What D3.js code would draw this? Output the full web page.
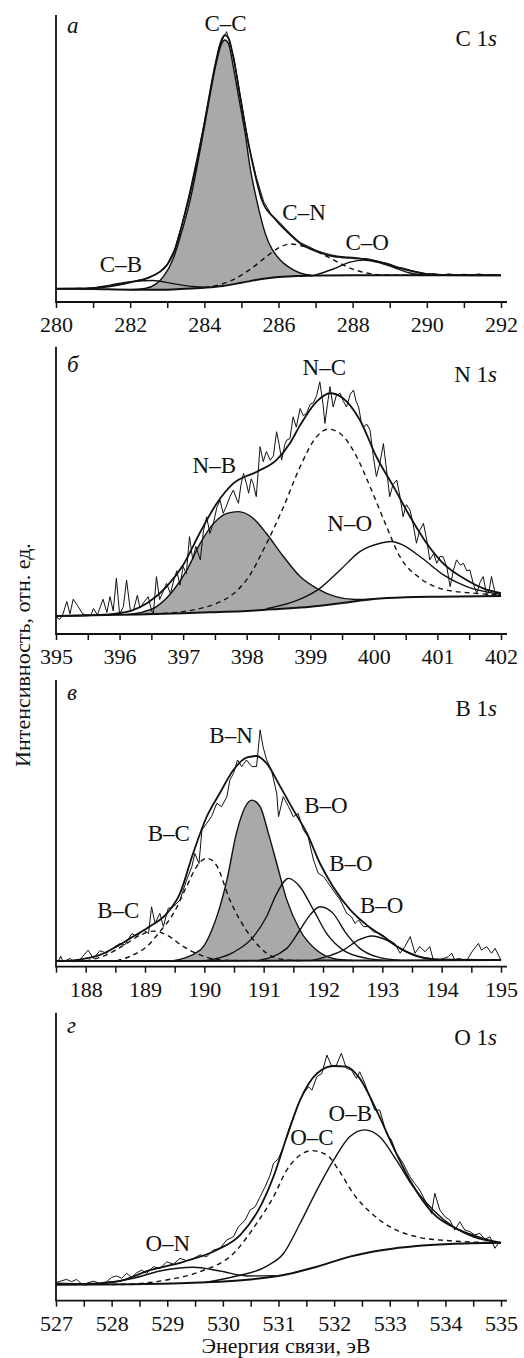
<!DOCTYPE html>
<html lang="ru">
<head>
<meta charset="UTF-8" />
<title>XPS</title>
<script src="https://d3js.org/d3.v7.min.js"></script>
<style>
  body { margin: 0; background: #fff; }
  svg { font-family: "Liberation Serif", "Times New Roman", serif; }
  .tick text { font-size: 22px; fill: #111; font-family: "Liberation Serif", "Times New Roman", serif; }
  .tick line { stroke: #111; stroke-width: 1.5px; }
</style>
</head>
<body>
<svg id="chart" width="524" height="1358"></svg>
<script>
// ---------- C 1s ----------
const c1sBackground = [[280,4.6],[281,4.5],[282,4.3],[283,4.3],[283.5,4.6],[284,5.0],[284.5,5.6],[285,6.7],[285.5,7.9],[286,8.7],[286.5,9.1],[287,9.2],[288,9.3],[292,9.3]];
const c1sCC = [[282.0,4.3],[282.4,4.7],[282.7,6.3],[282.9,8.9],[283.15,14.7],[283.38,24.0],[283.62,35.6],[283.97,58.8],[284.13,70.4],[284.3,82.0],[284.47,90.1],[284.55,91.3],[284.65,90.1],[284.78,82.0],[284.94,70.4],[285.1,58.8],[285.23,47.2],[285.41,35.6],[285.64,24.0],[286.04,14.7],[286.3,12.0],[286.58,10.1],[286.94,9.2]];
const c1sCB = [[280.7,4.55],[281.0,4.9],[281.46,5.9],[282.09,7.2],[282.6,7.5],[283.16,6.4],[283.7,5.4],[284.1,5.1]];
const c1sCN = [[284.0,5.0],[284.4,6.0],[284.78,7.8],[285.23,11.3],[285.68,15.9],[286.04,19.1],[286.31,20.2],[286.58,19.7],[287.03,17.6],[287.48,14.7],[287.93,11.8],[288.38,10.1],[288.92,9.4],[289.73,9.3]];
const c1sCO = [[286.94,9.2],[287.48,11.5],[287.93,13.9],[288.29,14.6],[288.65,13.9],[289.1,12.1],[289.55,10.1],[290.0,9.3]];
const c1sFit = [[280,4.6],[281,4.8],[281.5,5.5],[282,6.8],[282.5,8.5],[282.8,10.5],[283.0,13],[283.2,18],[283.38,26],[283.6,37],[283.97,60],[284.13,71.5],[284.3,83],[284.47,91.5],[284.55,93.0],[284.65,92],[284.8,84],[284.96,72],[285.12,60],[285.32,47.2],[285.55,35.6],[285.9,29],[286.27,24.0],[286.58,20.5],[287.03,17.6],[287.48,15.9],[288.24,15.0],[288.83,13.6],[289.28,11.8],[289.82,10.1],[290.45,9.4],[292,9.3]];
const c1sRaw = [[280.0,4.6],[280.2,4.7],[280.4,4.6],[280.6,4.8],[280.8,4.7],[281.0,5.0],[281.2,5.1],[281.4,5.5],[281.6,5.7],[281.8,6.3],[282.0,6.8],[282.2,7.5],[282.4,8.1],[282.6,9.1],[282.8,10.6],[283.0,13.2],[283.2,18.4],[283.4,27.2],[283.6,38.0],[283.8,50.0],[284.0,62.5],[284.2,76.5],[284.4,89.0],[284.6,94.2],[284.8,85.0],[285.0,69.5],[285.2,54.5],[285.4,43.5],[285.6,35.0],[285.8,30.6],[286.0,28.2],[286.2,25.4],[286.4,22.8],[286.6,20.6],[286.8,19.4],[287.0,18.1],[287.2,17.2],[287.4,16.5],[287.6,16.0],[287.8,15.7],[288.0,15.6],[288.2,15.2],[288.4,15.1],[288.6,14.5],[288.8,13.8],[289.0,13.2],[289.2,12.2],[289.4,11.7],[289.6,10.9],[289.8,10.4],[290.0,9.8],[290.2,9.9],[290.4,9.4],[290.6,9.8],[290.8,9.3],[291.0,9.7],[291.2,9.3],[291.4,9.8],[291.6,9.3],[291.8,9.6],[292.0,9.3]];

// ---------- N 1s ----------
const n1sBackground = [[395,6.3],[396,6.7],[397,7.2],[397.5,7.6],[398,8.0],[398.5,8.7],[399,9.5],[399.5,10.8],[400,12.2],[400.5,12.8],[401,13.0],[402,13.2]];
const n1sNB = [[396.1,6.75],[396.32,7.4],[396.58,9.5],[396.85,15.3],[397.06,22.3],[397.27,31.6],[397.48,38.5],[397.69,42.0],[397.87,42.6],[398.1,40.3],[398.31,35.0],[398.58,26.9],[398.84,20.0],[399.1,15.9],[399.4,13.0],[399.7,12.0],[400.0,12.2]];
const n1sNC = [[396.4,6.9],[397.0,7.8],[397.27,8.9],[397.53,10.7],[397.79,14.0],[398.05,20.5],[398.26,29.2],[398.58,44.3],[398.84,58.2],[399.1,68.7],[399.28,71.3],[399.47,69.8],[399.73,61.7],[399.94,51.3],[400.2,37.4],[400.41,26.9],[400.73,19.4],[401.1,15.5],[401.57,14.2],[402,13.6]];
const n1sNO = [[398.31,8.8],[398.84,12.1],[399.15,15.9],[399.47,22.3],[399.78,28.7],[400.1,31.6],[400.27,32.2],[400.45,31.0],[400.73,26.9],[401.1,20.5],[401.46,16.5],[402,13.8]];
const n1sFit = [[395,6.3],[395.5,6.5],[395.9,7.0],[396.22,8.4],[396.45,11.0],[396.74,16.5],[397.0,24],[397.27,35.5],[397.53,45.5],[397.79,52.4],[398.16,56.5],[398.47,60.6],[398.68,66.4],[398.84,72.7],[399.1,80.9],[399.31,83.8],[399.52,82.0],[399.78,74.5],[400.04,61.7],[400.31,51.3],[400.57,40.8],[400.83,31.6],[401.09,24.6],[401.46,18.8],[401.72,15.9],[402,14.2]];
const n1sRaw = [[395.00,6.3],[395.05,5.0],[395.10,6.3],[395.17,11.3],[395.22,7.0],[395.27,12.1],[395.35,9.5],[395.42,7.0],[395.50,6.5],[395.55,6.6],[395.59,8.9],[395.65,6.6],[395.74,12.1],[395.80,7.5],[395.85,13.0],[395.90,8.0],[395.95,19.4],[396.00,7.0],[396.06,9.5],[396.11,18.8],[396.17,8.0],[396.22,8.4],[396.28,13.5],[396.32,9.0],[396.38,11.0],[396.45,13.0],[396.50,8.5],[396.53,6.6],[396.58,20.0],[396.63,12.0],[396.69,15.0],[396.74,17.6],[396.80,14.0],[396.85,18.5],[396.90,22.0],[396.95,17.0],[397.00,23.5],[397.05,21.0],[397.10,33.9],[397.15,26.0],[397.20,30.5],[397.27,25.8],[397.32,36.0],[397.37,40.8],[397.42,35.0],[397.48,39.0],[397.53,44.0],[397.58,46.6],[397.63,42.0],[397.68,44.5],[397.74,48.0],[397.79,50.1],[397.84,47.0],[397.87,45.5],[397.91,52.0],[397.95,55.9],[398.00,52.0],[398.03,49.0],[398.07,54.0],[398.10,52.5],[398.15,47.8],[398.21,65.2],[398.26,60.0],[398.31,63.5],[398.37,60.5],[398.42,62.0],[398.47,70.4],[398.51,66.0],[398.55,60.6],[398.60,66.0],[398.63,67.5],[398.68,68.0],[398.73,75.6],[398.78,72.0],[398.84,78.5],[398.89,76.0],[398.94,76.8],[399.00,80.0],[399.05,80.5],[399.10,83.0],[399.15,87.8],[399.20,80.0],[399.23,73.3],[399.27,80.0],[399.31,86.1],[399.36,79.0],[399.41,83.0],[399.47,83.8],[399.52,81.0],[399.57,79.0],[399.63,83.5],[399.68,84.9],[399.72,81.0],[399.76,79.0],[399.80,74.0],[399.83,72.0],[399.89,73.0],[399.94,71.0],[399.99,62.0],[400.04,54.8],[400.10,60.0],[400.15,66.3],[400.20,57.0],[400.25,47.8],[400.30,52.0],[400.36,53.6],[400.41,48.0],[400.46,40.8],[400.51,45.0],[400.57,43.1],[400.62,38.0],[400.67,31.6],[400.72,36.0],[400.78,38.5],[400.83,33.0],[400.88,25.8],[400.94,28.0],[400.99,24.6],[401.04,27.0],[401.09,26.9],[401.15,23.0],[401.20,16.5],[401.25,22.0],[401.30,25.8],[401.36,24.0],[401.41,24.6],[401.46,22.0],[401.51,22.3],[401.57,17.0],[401.62,14.2],[401.67,18.0],[401.72,20.0],[401.78,13.0],[401.82,16.0],[401.85,20.0],[401.90,15.0],[401.93,14.2],[402.00,13.6]];

// ---------- B 1s ----------
const b1sBackground = [[187.5,2.0],[189,2.0],[191,2.1],[193,2.2],[195,2.3]];
const b1sBC1 = [[188.0,2.0],[188.35,4.1],[188.69,8.1],[188.92,11.0],[189.14,12.4],[189.37,11.0],[189.65,7.0],[189.93,4.1],[190.21,2.5],[190.6,2.1]];
const b1sBC2 = [[188.52,2.0],[188.8,4.1],[189.03,7.0],[189.25,12.2],[189.48,18.6],[189.7,27.9],[189.87,34.9],[190.04,37.8],[190.2,35.5],[190.43,23.3],[190.6,16.3],[190.83,9.3],[191.05,4.7],[191.33,2.5],[191.61,2.1]];
const b1sBN = [[189.45,2.0],[189.93,5.8],[190.15,14.0],[190.38,30.2],[190.54,46.5],[190.69,55.8],[190.8,58.1],[190.94,55.8],[191.08,46.5],[191.22,36.0],[191.39,23.3],[191.61,12.8],[191.89,5.8],[192.17,2.9],[192.5,2.15]];
const b1sBO1 = [[190.0,2.05],[190.49,5.0],[190.83,10.5],[191.05,17.5],[191.22,25.5],[191.42,30.8],[191.61,27.9],[191.84,19.8],[192.06,11.6],[192.34,5.8],[192.74,2.9],[193.02,2.2]];
const b1sBO2 = [[190.9,2.1],[191.39,6.4],[191.61,12.8],[191.78,18.0],[191.95,20.9],[192.17,18.6],[192.39,11.6],[192.62,6.4],[192.9,3.5],[193.3,2.2]];
const b1sBO3 = [[191.8,2.1],[192.34,5.8],[192.62,9.5],[192.82,10.7],[193.07,9.3],[193.35,5.8],[193.63,3.5],[194.03,2.2]];
const b1sFit = [[187.5,2.0],[187.62,2.0],[187.9,2.5],[188.24,4.1],[188.52,7.0],[188.8,10.5],[189.08,14.0],[189.37,18.6],[189.59,25.6],[189.81,39.5],[190.04,52.3],[190.26,60.5],[190.49,68.6],[190.72,73.0],[190.88,73.5],[191.05,70.9],[191.28,62.8],[191.5,54.7],[191.73,46.5],[191.95,36.0],[192.17,27.9],[192.46,19.8],[192.74,14.5],[193.02,10.5],[193.3,6.4],[193.58,3.7],[193.86,2.6],[195,2.3]];
const b1sRaw = [[187.54,1.7],[187.58,3.7],[187.62,1.7],[187.74,2.9],[187.79,1.7],[187.90,2.3],[188.04,5.8],[188.13,2.9],[188.24,5.6],[188.35,4.7],[188.49,7.0],[188.58,8.1],[188.66,7.6],[188.78,11.6],[188.86,10.5],[188.97,12.8],[189.06,11.6],[189.11,20.9],[189.17,15.1],[189.25,18.6],[189.31,14.0],[189.39,20.3],[189.48,20.9],[189.59,23.3],[189.70,30.2],[189.79,34.9],[189.84,39.5],[189.91,36.0],[189.96,47.7],[190.04,50.0],[190.12,52.3],[190.21,57.0],[190.29,55.8],[190.38,59.3],[190.43,65.1],[190.49,67.4],[190.56,72.1],[190.63,69.8],[190.71,72.1],[190.80,69.8],[190.88,69.8],[190.94,82.6],[190.99,76.7],[191.05,72.1],[191.13,68.6],[191.22,60.5],[191.25,52.3],[191.33,59.3],[191.42,55.8],[191.50,52.3],[191.58,53.5],[191.67,47.7],[191.75,45.3],[191.84,37.2],[191.92,32.6],[192.01,31.4],[192.09,29.1],[192.17,26.7],[192.29,23.3],[192.40,18.6],[192.48,17.4],[192.54,15.1],[192.60,16.3],[192.68,14.0],[192.76,14.0],[192.85,12.2],[192.96,11.6],[193.04,10.5],[193.10,9.3],[193.21,8.1],[193.30,4.7],[193.38,7.0],[193.47,10.5],[193.55,4.7],[193.63,7.0],[193.72,5.2],[193.80,7.0],[193.86,2.3],[193.97,2.3],[194.11,3.5],[194.17,4.7],[194.22,2.3],[194.28,2.9],[194.42,2.1],[194.53,5.8],[194.62,8.1],[194.67,5.8],[194.76,7.0],[194.84,4.7],[194.90,6.4],[195.00,2.3]];

// ---------- O 1s ----------
const o1sBackground = [[527,5.5],[528.39,5.7],[529.59,6.3],[530.49,7.4],[531.09,8.9],[531.69,11.8],[532.28,15.3],[532.88,17.6],[533.48,19.0],[534.08,19.7],[535,20.1]];
const o1sON = [[527.5,5.55],[527.79,6.0],[528.39,7.8],[528.87,10.3],[529.47,11.6],[529.95,10.3],[530.43,8.6],[530.95,8.7]];
const o1sOC = [[528.0,5.6],[528.39,5.8],[528.99,7.2],[529.59,10.1],[530.19,16.4],[530.61,26.9],[530.91,36.1],[531.15,45.4],[531.39,50.6],[531.6,52.1],[531.87,50.6],[532.1,44.8],[532.34,37.3],[532.64,30.9],[533.0,25.7],[533.48,22.2],[534.08,20.8],[535,20.1]];
const o1sOB = [[529.7,6.4],[530.19,8.3],[530.79,12.0],[531.09,16.4],[531.39,26.9],[531.69,38.4],[531.99,48.8],[532.28,56.9],[532.55,59.3],[532.82,56.9],[533.12,48.8],[533.42,39.6],[533.78,31.5],[534.14,25.7],[534.5,22.2],[535,20.1]];
const o1sFit = [[527,6.0],[527.49,5.8],[528.09,6.6],[528.69,10.6],[529.29,13.5],[529.89,17.6],[530.31,22.8],[530.67,32.6],[530.91,43.1],[531.15,56.9],[531.39,69.7],[531.69,78.9],[531.99,81.5],[532.22,81.3],[532.46,77.2],[532.76,66.2],[533.06,53.5],[533.36,41.9],[533.78,30.3],[534.26,24.5],[534.68,21.6],[535,20.1]];
const o1sRaw = [[527.00,6.3],[527.10,6.9],[527.19,7.4],[527.28,6.6],[527.37,7.4],[527.46,5.8],[527.55,6.0],[527.67,6.8],[527.79,6.0],[527.91,6.6],[528.00,8.1],[528.09,8.6],[528.18,7.8],[528.27,9.5],[528.36,8.1],[528.45,9.7],[528.54,10.6],[528.63,9.5],[528.75,11.8],[528.87,11.2],[528.99,13.5],[529.11,12.7],[529.23,14.7],[529.35,13.9],[529.47,14.7],[529.59,15.9],[529.71,15.3],[529.83,17.6],[529.95,18.2],[530.07,21.1],[530.19,22.2],[530.28,25.7],[530.40,28.0],[530.49,31.5],[530.58,32.6],[530.67,36.1],[530.76,39.6],[530.85,43.6],[530.91,47.7],[531.00,49.4],[531.09,53.5],[531.18,59.3],[531.27,63.9],[531.36,68.5],[531.45,72.0],[531.54,74.3],[531.60,73.1],[531.69,77.8],[531.78,78.9],[531.87,85.3],[531.96,81.3],[532.04,81.8],[532.13,85.9],[532.22,80.7],[532.31,80.1],[532.40,77.2],[532.46,79.5],[532.55,75.5],[532.64,70.8],[532.73,66.2],[532.82,66.2],[532.94,58.1],[533.03,55.8],[533.12,51.2],[533.24,47.7],[533.36,43.1],[533.45,40.7],[533.54,38.4],[533.66,33.8],[533.75,30.3],[533.81,37.3],[533.90,31.5],[533.99,29.2],[534.08,28.0],[534.17,24.5],[534.26,27.4],[534.35,24.5],[534.44,24.0],[534.53,22.8],[534.62,23.4],[534.71,21.3],[534.80,22.2],[534.89,18.2],[534.95,19.9],[535.00,20.1]];

// ---------- panels ----------
const panels = [
  { letter: "а", element: "C", domain: [280, 292], tickStep: 1, labelStep: 2, top: 15, bottom: 302,
    letterDy: 18, tagDy: 31, bg: c1sBackground, filled: c1sCC, solid: [c1sCB, c1sCO], dashed: [c1sCN],
    fit: c1sFit, raw: c1sRaw,
    labels: [["C–C", 284.57, 94.4], ["C–N", 286.69, 28.6], ["C–O", 288.39, 18.1], ["C–B", 281.75, 10.5]] },
  { letter: "б", element: "N", domain: [395, 402], tickStep: 0.5, labelStep: 1, top: 346.7, bottom: 634,
    letterDy: 25, tagDy: 35, bg: n1sBackground, filled: n1sNB, solid: [n1sNO], dashed: [n1sNC],
    fit: n1sFit, raw: n1sRaw,
    labels: [["N–C", 399.22, 90.1], ["N–B", 397.49, 56.0], ["N–O", 399.62, 35.9]] },
  { letter: "в", element: "B", domain: [187.5, 195], tickStep: 0.5, labelStep: 1, top: 680, bottom: 966.7,
    letterDy: 20, tagDy: 36, bg: b1sBackground, filled: b1sBN, solid: [b1sBO1, b1sBO2, b1sBO3], dashed: [b1sBC1, b1sBC2],
    fit: b1sFit, raw: b1sRaw,
    labels: [["B–N", 190.45, 77.9], ["B–O", 192.05, 53.6], ["B–C", 189.4, 43.8], ["B–O", 192.47, 33.4], ["B–C", 188.55, 17.0], ["B–O", 192.99, 18.7]] },
  { letter: "г", element: "O", domain: [527, 535], tickStep: 0.5, labelStep: 1, top: 1012.7, bottom: 1300.7,
    letterDy: 20, tagDy: 32, bg: o1sBackground, filled: null, solid: [o1sON, o1sOB], dashed: [o1sOC],
    fit: o1sFit, raw: o1sRaw,
    labels: [["O–B", 532.29, 62.4], ["O–C", 531.6, 54.1], ["O–N", 529.01, 17.3]] }
];

const svg = d3.select("#chart");
const left = 56, right = 501;
const ink = "#111";

panels.forEach((p) => {
  const x = d3.scaleLinear().domain(p.domain).range([left, right]);
  const y = d3.scaleLinear().domain([0, 100]).range([p.bottom, p.top]);
  const g = svg.append("g");

  const smooth = d3.line().x((d) => x(d[0])).y((d) => y(d[1])).curve(d3.curveMonotoneX);
  const straight = d3.line().x((d) => x(d[0])).y((d) => y(d[1]));

  // grey filled component, closed along the background
  if (p.filled) {
    const f = p.filled;
    const x0 = f[0][0], x1 = f[f.length - 1][0];
    const back = [f[f.length - 1]]
      .concat(p.bg.filter((d) => d[0] > x0 && d[0] < x1).reverse())
      .concat([f[0]]);
    g.append("path")
      .attr("d", smooth(f) + smooth(back).replace(/^M/, "L") + "Z")
      .attr("fill", "#a9a9a9")
      .attr("stroke", "none");
    g.append("path").attr("d", smooth(f)).attr("fill", "none").attr("stroke", ink).attr("stroke-width", 1.4);
  }

  g.append("path").attr("d", smooth(p.bg)).attr("fill", "none").attr("stroke", ink).attr("stroke-width", 2);

  p.solid.forEach((c) => {
    g.append("path").attr("d", smooth(c)).attr("fill", "none").attr("stroke", ink).attr("stroke-width", 1.4);
  });
  p.dashed.forEach((c) => {
    g.append("path").attr("d", smooth(c)).attr("fill", "none").attr("stroke", ink)
      .attr("stroke-width", 1.4).attr("stroke-dasharray", "5,4");
  });

  g.append("path").attr("d", straight(p.raw)).attr("fill", "none").attr("stroke", ink)
    .attr("stroke-width", 1).attr("stroke-linejoin", "round");
  g.append("path").attr("d", smooth(p.fit)).attr("fill", "none").attr("stroke", ink).attr("stroke-width", 1.8);

  // axes
  const ticks = d3.range(p.domain[0], p.domain[1] + 1e-6, p.tickStep);
  const axis = d3.axisBottom(x)
    .tickValues(ticks)
    .tickSize(6)
    .tickSizeOuter(0)
    .tickFormat((d) => (Math.abs(d / p.labelStep - Math.round(d / p.labelStep)) < 1e-6 ? d : ""));
  const ax = g.append("g").attr("transform", `translate(0,${p.bottom})`).call(axis);
  ax.attr("font-family", null).attr("font-size", null);
  ax.select(".domain").remove();
  ax.selectAll(".tick text").attr("dy", null).attr("y", 30);

  g.append("line").attr("x1", left).attr("x2", 507).attr("y1", p.bottom).attr("y2", p.bottom)
    .attr("stroke", ink).attr("stroke-width", 1.8);
  g.append("line").attr("x1", left).attr("x2", left).attr("y1", p.top).attr("y2", p.bottom + 0.9)
    .attr("stroke", ink).attr("stroke-width", 1.8);

  // texts
  g.append("text").attr("x", 67).attr("y", p.top + p.letterDy)
    .attr("font-size", 23).attr("font-style", "italic").attr("fill", ink).text(p.letter);

  const tag = g.append("text").attr("x", 497).attr("y", p.top + p.tagDy)
    .attr("font-size", 23).attr("text-anchor", "end").attr("fill", ink);
  tag.append("tspan").text(p.element + " 1");
  tag.append("tspan").attr("font-style", "italic").text("s");

  g.selectAll("text.peak").data(p.labels).enter().append("text")
    .attr("class", "peak")
    .attr("x", (d) => x(d[1])).attr("y", (d) => y(d[2]))
    .attr("text-anchor", "middle").attr("font-size", 23).attr("fill", ink)
    .text((d) => d[0]);
});

svg.append("text")
  .attr("transform", "translate(30,655) rotate(-90)")
  .attr("text-anchor", "middle").attr("font-size", 22).attr("fill", ink)
  .text("Интенсивность, отн. ед.");

svg.append("text")
  .attr("x", 286).attr("y", 1353)
  .attr("text-anchor", "middle").attr("font-size", 22).attr("fill", ink)
  .text("Энергия связи, эВ");
</script>
</body>
</html>
